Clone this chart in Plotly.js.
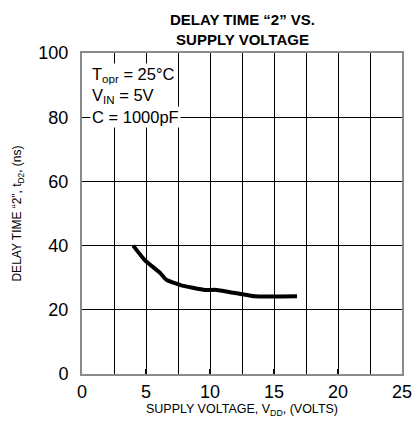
<!DOCTYPE html>
<html><head><meta charset="utf-8">
<script src="https://cdn.plot.ly/plotly-3.0.1.min.js"></script>
<style>html,body{margin:0;padding:0;background:#fff}#c{width:413px;height:425px}</style>
</head><body><div id="c"></div>
<script>
var voltage = [4.0, 4.9, 6.1, 6.6, 7.7, 9.6, 10.5, 12.3, 13.5, 16.8];
var delayTime = [40, 35.5, 31.5, 29.3, 27.7, 26.2, 26.2, 25.0, 24.2, 24.2];
var xTicks = [0, 5, 10, 15, 20, 25];
var yTicks = [0, 20, 40, 60, 80, 100];
var conditions = ["T<sub>opr</sub> = 25°C", "V<sub>IN</sub> = 5V", "C = 1000pF"];
var chartTitle = "<b>DELAY TIME “2” VS.<br>SUPPLY VOLTAGE</b>";

var font = "Liberation Sans, Arial, Helvetica, sans-serif";
var data = [{
  x: voltage, y: delayTime, mode: "lines", type: "scatter",
  line: {color: "#000", width: 4, shape: "spline", smoothing: 0.4},
  hoverinfo: "skip"
}];
var annotations = conditions.map(function(t, i){
  return {xref: "paper", yref: "y", x: 0.025, y: [93, 86.5, 80][i], text: t,
    showarrow: false, xanchor: "left", yanchor: "middle", bgcolor: "#fff",
    font: {family: font, size: 16.5, color: "#000"}, borderpad: 1};
});
annotations.push({xref: "paper", yref: "paper", x: 0.5, y: 1, yshift: 3,
  xanchor: "center", yanchor: "bottom", showarrow: false, text: chartTitle,
  font: {family: font, size: 15, color: "#000"}});
var layout = {
  width: 413, height: 425,
  margin: {l: 82, r: 11, t: 53, b: 51},
  paper_bgcolor: "#fff", plot_bgcolor: "#fff",
  showlegend: false,
  xaxis: {range: [0, 25], tickvals: xTicks, ticktext: xTicks.map(String),
    showgrid: true, gridcolor: "#000", gridwidth: 1,
    minor: {dtick: 2.5, tick0: 0, showgrid: true, gridcolor: "#000", gridwidth: 1},
    ticks: "inside", ticklen: 5, tickwidth: 2, tickcolor: "#000",
    showline: true, linecolor: "#8a8a8a", linewidth: 2, mirror: true,
    zeroline: false, fixedrange: true,
    tickfont: {family: font, size: 18, color: "#000"},
    title: {text: "SUPPLY VOLTAGE, V<sub>DD</sub>, (VOLTS)", standoff: 4, font: {family: font, size: 12.5, color: "#000"}}},
  yaxis: {range: [0, 100], tickvals: yTicks, ticktext: yTicks.map(String),
    showgrid: true, gridcolor: "#000", gridwidth: 1,
    ticks: "inside", ticklen: 8, tickwidth: 1, tickcolor: "#000",
    ticklabelstandoff: 8,
    showline: true, linecolor: "#8a8a8a", linewidth: 2, mirror: true,
    zeroline: false, fixedrange: true,
    tickfont: {family: font, size: 18, color: "#000"},
    title: {text: "DELAY TIME “2”, t<sub>D2</sub>, (ns)", standoff: 14, font: {family: font, size: 12, color: "#000"}}},
  annotations: annotations
};
Plotly.newPlot("c", data, layout, {staticPlot: true, displayModeBar: false});
</script></body></html>
